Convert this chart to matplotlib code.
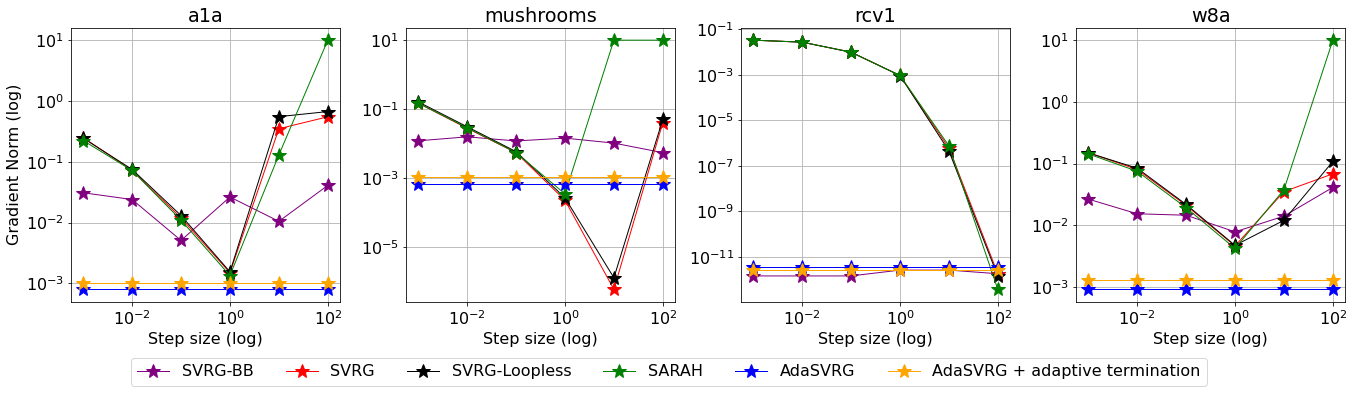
import matplotlib
matplotlib.use('Agg')
import matplotlib.pyplot as plt
from matplotlib.ticker import NullLocator, LogLocator

# step sizes tried for every method
step_sizes = [1e-3, 1e-2, 1e-1, 1e0, 1e1, 1e2]

datasets = ['a1a', 'mushrooms', 'rcv1', 'w8a']
methods = ['SVRG-BB', 'SVRG', 'SVRG-Loopless', 'SARAH', 'AdaSVRG',
           'AdaSVRG + adaptive termination']
colors = ['purple', 'red', 'black', 'green', 'blue', 'orange']

# gradient norm per method, one list per dataset
a1a_svrg_bb = [0.031, 0.024, 0.0051, 0.0264, 0.0105, 0.041]
a1a_svrg = [0.25, 0.072, 0.012, 0.0015, 0.35, 0.55]
a1a_loopless = [0.245, 0.075, 0.0131, 0.00155, 0.553, 0.67]
a1a_sarah = [0.224, 0.072, 0.011, 0.00135, 0.13, 10.0]
a1a_adasvrg = [0.0008] * 6
a1a_adasvrg_at = [0.001] * 6

mush_svrg_bb = [0.0121, 0.0158, 0.012, 0.0145, 0.0104, 0.0055]
mush_svrg = [0.15, 0.028, 0.0055, 0.00023, 6e-7, 0.041]
mush_loopless = [0.163, 0.031, 0.0059, 0.00027, 1.3e-6, 0.051]
mush_sarah = [0.149, 0.029, 0.0055, 0.00035, 10.0, 10.0]
mush_adasvrg = [0.00068] * 6
mush_adasvrg_at = [0.00108] * 6

rcv1_svrg_bb = [1.44e-12, 1.44e-12, 1.44e-12, 2.6e-12, 2.6e-12, 1.8e-12]
rcv1_svrg = [0.033, 0.027, 0.0098, 0.00093, 6e-7, 1.8e-12]
rcv1_loopless = [0.033, 0.027, 0.0098, 0.00092, 4.5e-7, 1.4e-12]
rcv1_sarah = [0.033, 0.027, 0.0098, 0.00093, 7.5e-7, 3.7e-13]
rcv1_adasvrg = [3.5e-12] * 6
rcv1_adasvrg_at = [2.6e-12] * 6

w8a_svrg_bb = [0.0265, 0.0153, 0.0145, 0.0078, 0.014, 0.041]
w8a_svrg = [0.15, 0.08, 0.021, 0.0046, 0.035, 0.068]
w8a_loopless = [0.149, 0.084, 0.0217, 0.0047, 0.012, 0.108]
w8a_sarah = [0.143, 0.075, 0.0192, 0.0042, 0.0375, 10.0]
w8a_adasvrg = [0.00091] * 6
w8a_adasvrg_at = [0.00129] * 6

results = {
    'a1a': [a1a_svrg_bb, a1a_svrg, a1a_loopless, a1a_sarah, a1a_adasvrg, a1a_adasvrg_at],
    'mushrooms': [mush_svrg_bb, mush_svrg, mush_loopless, mush_sarah, mush_adasvrg, mush_adasvrg_at],
    'rcv1': [rcv1_svrg_bb, rcv1_svrg, rcv1_loopless, rcv1_sarah, rcv1_adasvrg, rcv1_adasvrg_at],
    'w8a': [w8a_svrg_bb, w8a_svrg, w8a_loopless, w8a_sarah, w8a_adasvrg, w8a_adasvrg_at],
}

plt.rcParams['font.size'] = 16

fig, axes = plt.subplots(1, 4, figsize=(1354 / 72, 393 / 72), dpi=72)
fig.subplots_adjust(left=0.0524, right=0.9934, bottom=0.232, top=0.9295, wspace=0.245)

for ax, name in zip(axes, datasets):
    for values, label, color in zip(results[name], methods, colors):
        ax.plot(step_sizes, values, color=color, marker='*', markersize=15,
                linewidth=1, label=label)
    ax.set_xscale('log')
    ax.set_yscale('log')
    ax.xaxis.set_minor_locator(NullLocator())
    ax.yaxis.set_minor_locator(NullLocator())
    ax.grid(True)
    ax.set_title(name)
    ax.set_xlabel('Step size (log)')

# wide range on mushrooms: label every other decade
axes[1].yaxis.set_major_locator(LogLocator(base=10, numticks=5))

axes[0].set_ylabel('Gradient Norm (log)')

handles, labels = axes[0].get_legend_handles_labels()
fig.legend(handles, labels, loc='center', ncol=6, bbox_to_anchor=(0.494, 0.054))

plt.savefig('out.png', dpi=72)
